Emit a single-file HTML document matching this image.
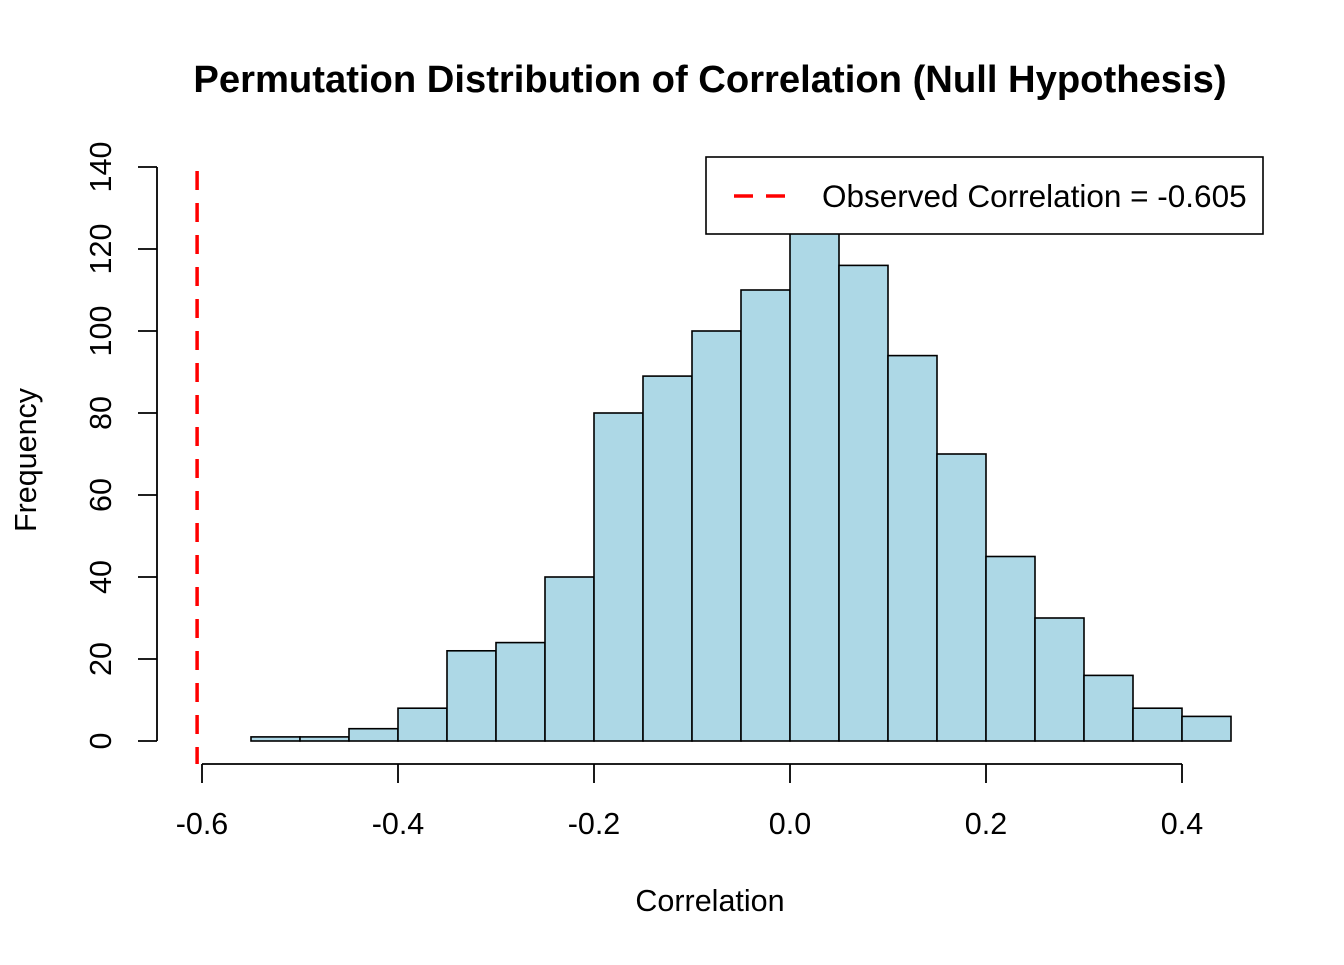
<!DOCTYPE html>
<html><head><meta charset="utf-8"><style>
body{margin:0;background:#fff}
svg text{font-family:"Liberation Sans",Arial,sans-serif;fill:#000}
</style></head><body>
<svg id="chart" width="1344" height="960" xmlns="http://www.w3.org/2000/svg">
<text x="710" y="92" text-anchor="middle" font-size="38.2" font-weight="bold">Permutation Distribution of Correlation (Null Hypothesis)</text>
<text x="710" y="911" text-anchor="middle" font-size="30.5">Correlation</text>
<text transform="translate(36,460) rotate(-90)" text-anchor="middle" font-size="30.5">Frequency</text>
<g id="bars"></g><g id="axes"></g>
<line id="obs" stroke="#ff0000" stroke-width="3.5" stroke-dasharray="19,13"/>
<g>
<rect x="706" y="157" width="557" height="77" fill="#fff" stroke="#000" stroke-width="1.6"/>
<line x1="734" y1="196" x2="790" y2="196" stroke="#ff0000" stroke-width="3.5" stroke-dasharray="19,13"/>
<text x="822" y="207" font-size="31.5">Observed Correlation = -0.605</text>
</g>
</svg>
<script>
const binStarts=[-0.55,-0.5,-0.45,-0.4,-0.35,-0.3,-0.25,-0.2,-0.15,-0.1,-0.05,0,0.05,0.1,0.15,0.2,0.25,0.3,0.35,0.4];
const counts=[1,1,3,8,22,24,40,80,89,100,110,137,116,94,70,45,30,16,8,6];
const xTicks=[-0.6,-0.4,-0.2,0.0,0.2,0.4];
const xTickLabels=["-0.6","-0.4","-0.2","0.0","0.2","0.4"];
const yTicks=[0,20,40,60,80,100,120,140];
const binWidth=0.05;
const observed=-0.605;
const NS="http://www.w3.org/2000/svg";
const xs=v=>790+v*(1182-790)/0.4;
const ys=v=>741-v*(741-167)/140;
function mk(t,a,p){const e=document.createElementNS(NS,t);for(const k in a)e.setAttribute(k,a[k]);p.appendChild(e);return e;}
const bars=document.getElementById('bars'),axes=document.getElementById('axes');
binStarts.forEach((b,i)=>{
 const x1=xs(b),x2=xs(b+binWidth),y=ys(counts[i]);
 const r=mk('rect',{x:x1,y:y,width:x2-x1,height:ys(0)-y,fill:'#add8e6',stroke:'#000','stroke-width':1.6},bars);
 
 
});
const xa=mk('line',{x1:xs(xTicks[0]),x2:xs(xTicks[xTicks.length-1]),y1:764,y2:764,stroke:'#000','stroke-width':1.8},axes);


xTicks.forEach((v,i)=>{
 mk('line',{x1:xs(v),x2:xs(v),y1:764,y2:783,stroke:'#000','stroke-width':1.8},axes);
 const t=mk('text',{x:xs(v),y:834,'text-anchor':'middle','font-size':30.5},axes);t.textContent=xTickLabels[i];
 
 
});
const ya=mk('line',{x1:157,x2:157,y1:ys(yTicks[0]),y2:ys(yTicks[yTicks.length-1]),stroke:'#000','stroke-width':1.8},axes);


yTicks.forEach(v=>{
 mk('line',{x1:138,x2:157,y1:ys(v),y2:ys(v),stroke:'#000','stroke-width':1.8},axes);
 const t=mk('text',{transform:`translate(111,${ys(v)}) rotate(-90)`,'text-anchor':'middle','font-size':30.5},axes);t.textContent=String(v);
 
 
});
const o=document.getElementById('obs');
o.setAttribute('x1',xs(observed));o.setAttribute('x2',xs(observed));
o.setAttribute('y1',171);o.setAttribute('y2',764);
</script>
</body></html>
